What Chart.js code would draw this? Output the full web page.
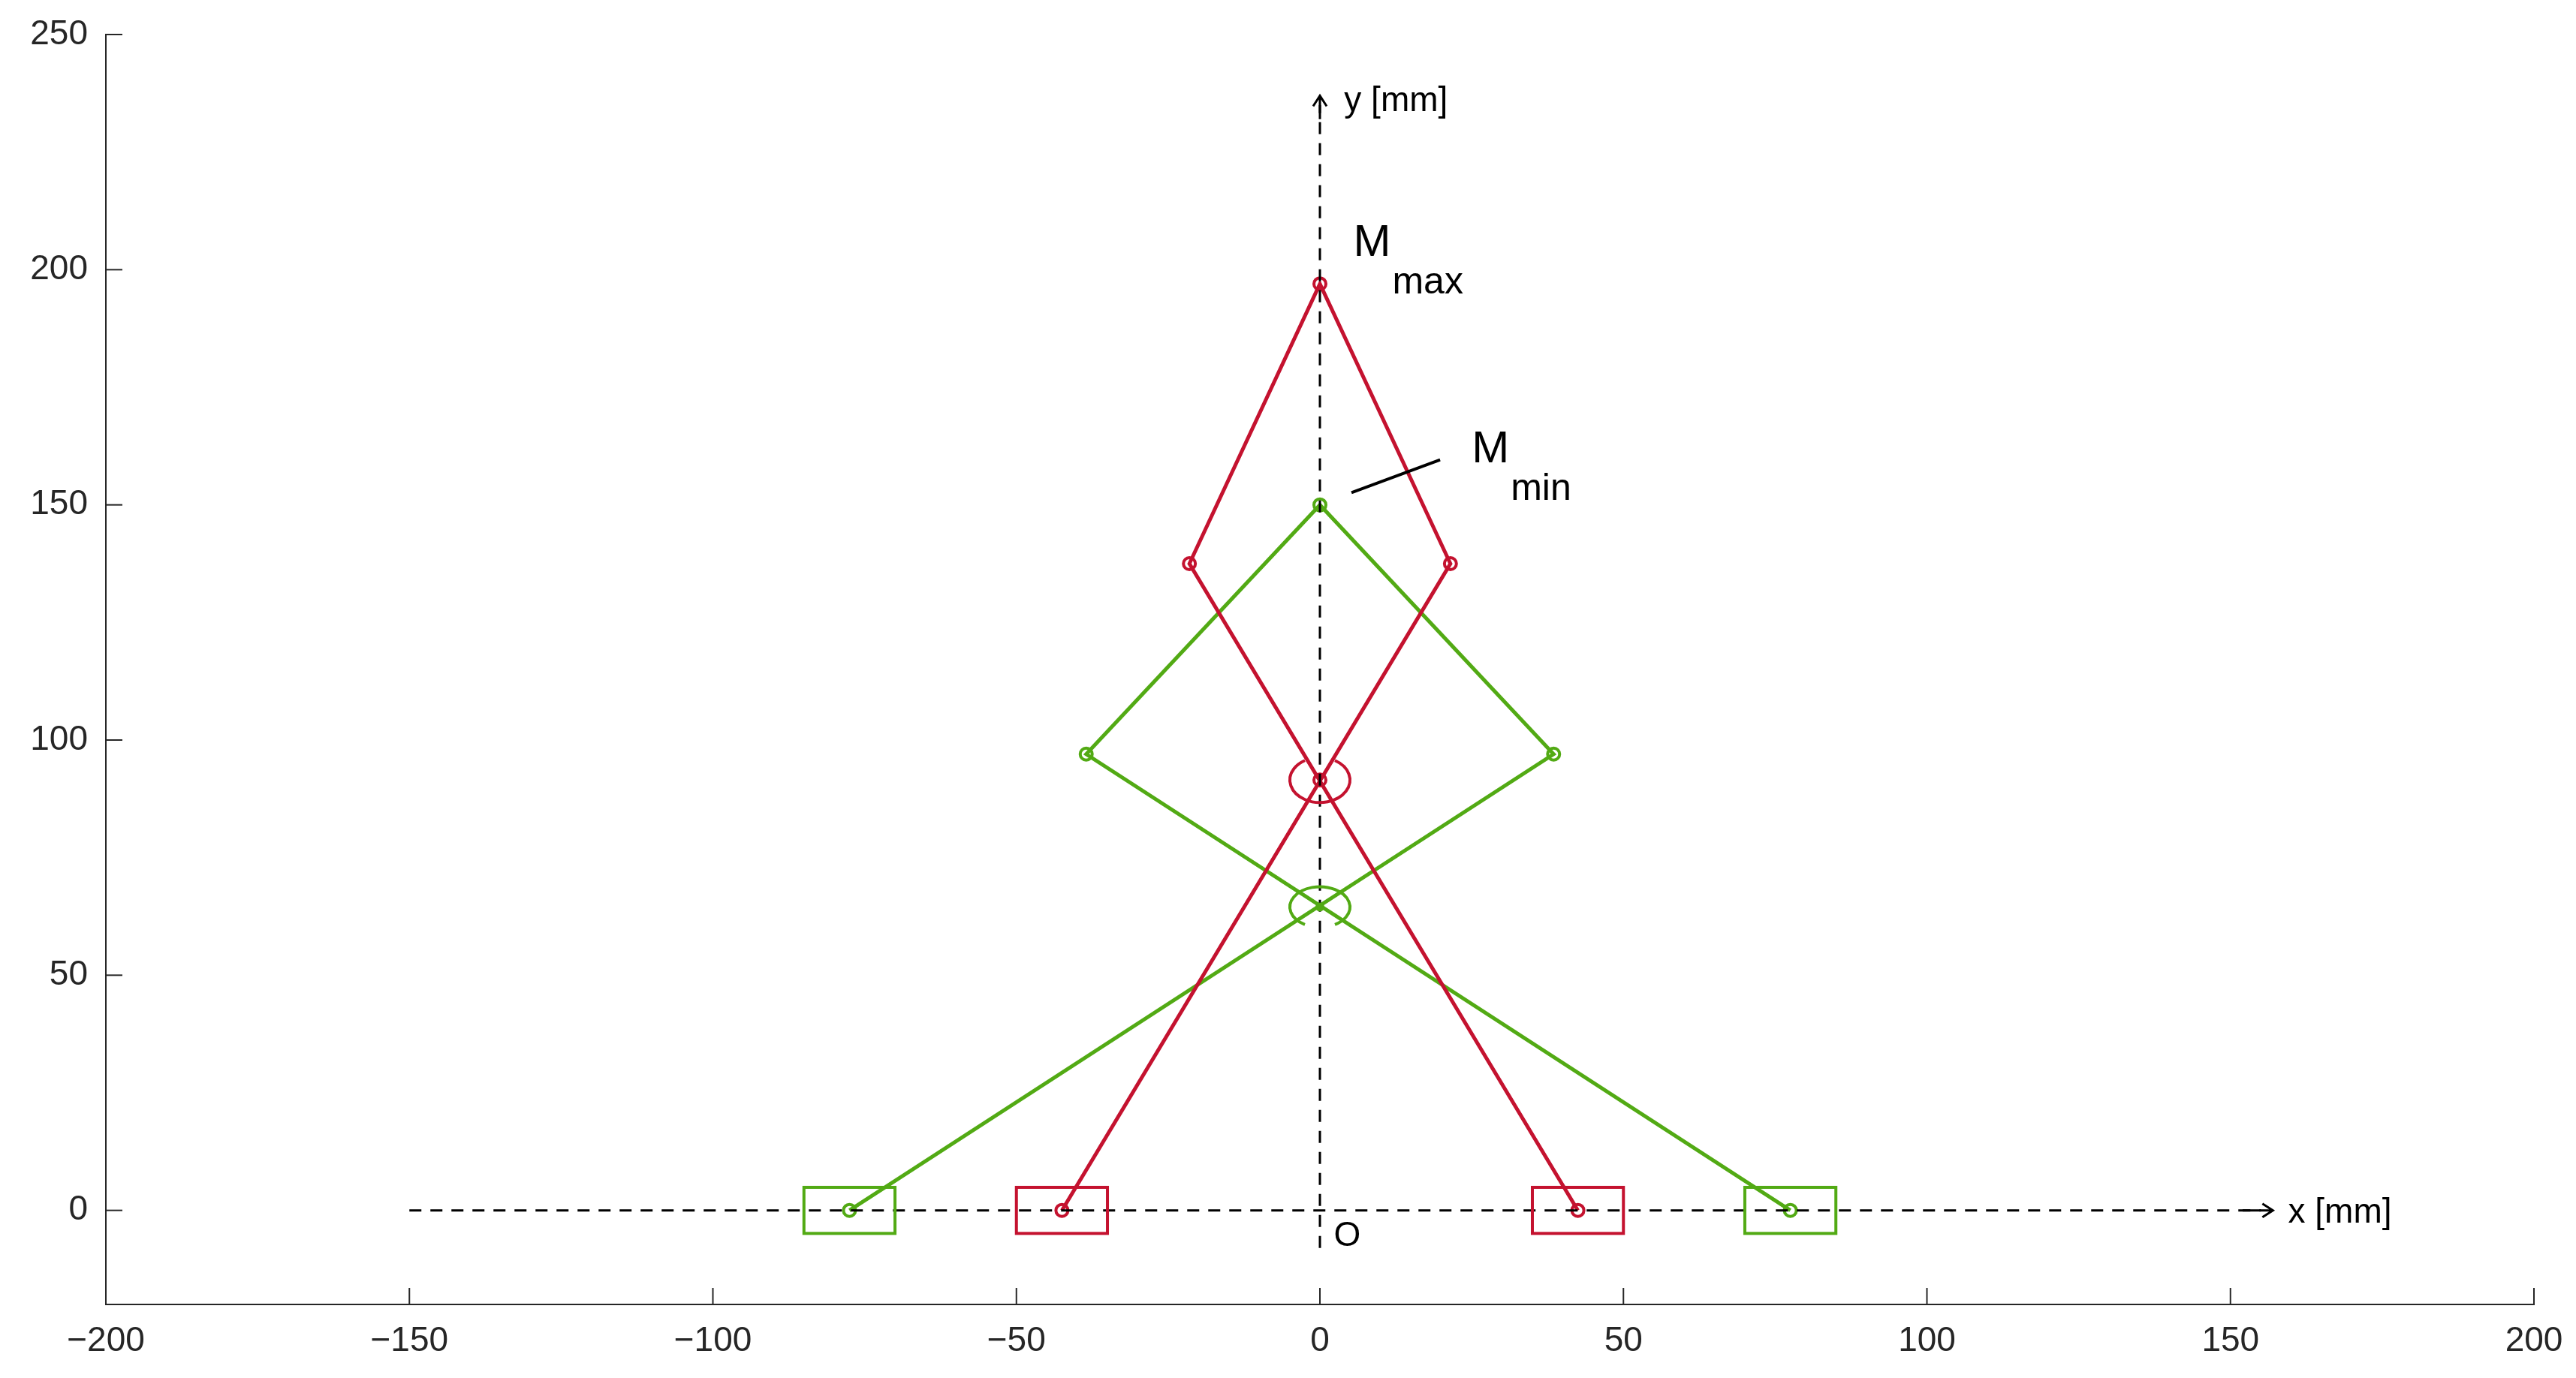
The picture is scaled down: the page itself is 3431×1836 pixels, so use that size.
<!DOCTYPE html>
<html><head><meta charset="utf-8">
<script src="https://cdn.jsdelivr.net/npm/chart.js@4"></script>
<style>html,body{margin:0;padding:0;background:#fff}#c{display:block}</style>
</head><body>
<div style="width:3431px;height:1836px"><canvas id="c" width="3431" height="1836"></canvas></div>
<script>
// mechanism at maximum position (red) and minimum position (green)
const redX = [-42.5, 21.5, 0, -21.5, 42.5];
const redY = [0, 137.5, 197, 137.5, 0];
const greenX = [-77.5, 38.5, 0, -38.5, 77.5];
const greenY = [0, 97, 150, 97, 0];
const redPivot = [0, 91.5];
const greenPivot = [0, 64.5];
const xTicks = [-200, -150, -100, -50, 0, 50, 100, 150, 200];
const yTicks = [0, 50, 100, 150, 200, 250];

const RED = "#c4122f";
const GREEN = "#52aa14";
const INK = "#262626";

function pts(xs, ys) { return xs.map((x, i) => ({x: x, y: ys[i]})); }

const overlay = {
  id: "overlay",
  afterDatasetsDraw(chart) {
    const ctx = chart.ctx, xs = chart.scales.x, ys = chart.scales.y;
    const px = v => xs.getPixelForValue(v), py = v => ys.getPixelForValue(v);
    const a = chart.chartArea;
    ctx.save();
    // inward tick marks
    ctx.strokeStyle = INK; ctx.lineWidth = 2;
    xTicks.forEach(t => { ctx.beginPath(); ctx.moveTo(px(t), a.bottom); ctx.lineTo(px(t), a.bottom - 22); ctx.stroke(); });
    yTicks.forEach(t => { ctx.beginPath(); ctx.moveTo(a.left, py(t)); ctx.lineTo(a.left + 22, py(t)); ctx.stroke(); });
    // dashed axes
    ctx.strokeStyle = "#000"; ctx.lineWidth = 3; ctx.setLineDash([16, 12]);
    ctx.beginPath(); ctx.moveTo(px(-150), py(0)); ctx.lineTo(px(155), py(0)); ctx.stroke();
    ctx.beginPath(); ctx.moveTo(px(0), py(-8)); ctx.lineTo(px(0), py(235)); ctx.stroke();
    ctx.setLineDash([]);
    // arrows
    const ax = px(157), ay = py(237);
    ctx.beginPath(); ctx.moveTo(px(152), py(0)); ctx.lineTo(ax, py(0));
    ctx.moveTo(ax - 14, py(0) - 9); ctx.lineTo(ax, py(0)); ctx.lineTo(ax - 14, py(0) + 9); ctx.stroke();
    ctx.beginPath(); ctx.moveTo(px(0), py(232)); ctx.lineTo(px(0), ay);
    ctx.moveTo(px(0) - 9, ay + 14); ctx.lineTo(px(0), ay); ctx.lineTo(px(0) + 9, ay + 14); ctx.stroke();
    // sliders
    ctx.lineWidth = 4;
    [[redX[0], RED], [redX[4], RED], [greenX[0], GREEN], [greenX[4], GREEN]].forEach(([cx, col]) => {
      ctx.strokeStyle = col;
      ctx.strokeRect(px(cx - 7.5), py(4.9), px(cx + 7.5) - px(cx - 7.5), py(-4.9) - py(4.9));
    });
    // pivot ellipses
    ctx.strokeStyle = RED;
    ctx.beginPath(); ctx.ellipse(px(redPivot[0]), py(redPivot[1]), 40, 30, 0, -Math.PI / 3, Math.PI * 4 / 3); ctx.stroke();
    ctx.strokeStyle = GREEN;
    ctx.beginPath(); ctx.ellipse(px(greenPivot[0]), py(greenPivot[1]), 40, 27, 0, Math.PI * 2 / 3, Math.PI / 3); ctx.stroke();
    ctx.fillStyle = GREEN;
    ctx.beginPath(); ctx.arc(px(greenPivot[0]), py(greenPivot[1]), 6, 0, Math.PI * 2); ctx.fill();
    // leader for M_min
    ctx.strokeStyle = "#000"; ctx.lineWidth = 4;
    ctx.beginPath(); ctx.moveTo(px(5.2), py(152.6)); ctx.lineTo(px(19.8), py(159.6)); ctx.stroke();
    // labels
    ctx.fillStyle = "#000"; ctx.textBaseline = "alphabetic"; ctx.textAlign = "left";
    ctx.font = "46px 'Liberation Sans', Arial, sans-serif";
    ctx.fillText("x [mm]", px(159.5), py(0) + 16);
    ctx.fillText("y [mm]", px(4), py(234) + 2);
    ctx.fillText("O", px(2.3), py(-7.5));
    ctx.font = "60px 'Liberation Sans', Arial, sans-serif";
    ctx.fillText("M", px(5.5), py(203));
    ctx.fillText("M", px(25), py(159));
    ctx.font = "50px 'Liberation Sans', Arial, sans-serif";
    ctx.fillText("max", px(5.5) + 52, py(195));
    ctx.fillText("min", px(25) + 52, py(151));
    ctx.restore();
  }
};

const axisFont = {family: "'Liberation Sans', Arial, sans-serif", size: 46};

new Chart(document.getElementById("c"), {
  type: "scatter",
  data: {
    datasets: [
      {data: pts(redX, redY), showLine: true, borderColor: RED, borderWidth: 5,
       pointRadius: 8, pointBorderWidth: 4, pointBackgroundColor: "rgba(0,0,0,0)", pointBorderColor: RED},
      {data: [{x: redPivot[0], y: redPivot[1]}], borderColor: RED,
       pointRadius: 8, pointBorderWidth: 4, pointBackgroundColor: "rgba(0,0,0,0)", pointBorderColor: RED},
      {data: pts(greenX, greenY), showLine: true, borderColor: GREEN, borderWidth: 5,
       pointRadius: 8, pointBorderWidth: 4, pointBackgroundColor: "rgba(0,0,0,0)", pointBorderColor: GREEN}
    ]
  },
  options: {
    responsive: false, animation: false, devicePixelRatio: 1,
    layout: {padding: {top: 46, right: 56, left: 0, bottom: 0}},
    plugins: {legend: {display: false}, tooltip: {enabled: false}},
    scales: {
      x: {
        type: "linear", min: -200, max: 200,
        afterBuildTicks: s => { s.ticks = xTicks.map(v => ({value: v})); },
        afterFit: s => { s.height = 98; },
        grid: {display: false},
        border: {display: true, color: INK, width: 2},
        ticks: {color: INK, font: axisFont, padding: 14, maxRotation: 0,
                callback: v => v < 0 ? "\u2212" + Math.abs(v) : String(v)}
      },
      y: {
        type: "linear", min: -20, max: 250,
        afterBuildTicks: s => { s.ticks = yTicks.map(v => ({value: v})); },
        afterFit: s => { s.width = 141; },
        grid: {display: false},
        border: {display: true, color: INK, width: 2},
        ticks: {color: INK, font: axisFont, padding: 16}
      }
    }
  },
  plugins: [overlay]
});
</script>
</body></html>
